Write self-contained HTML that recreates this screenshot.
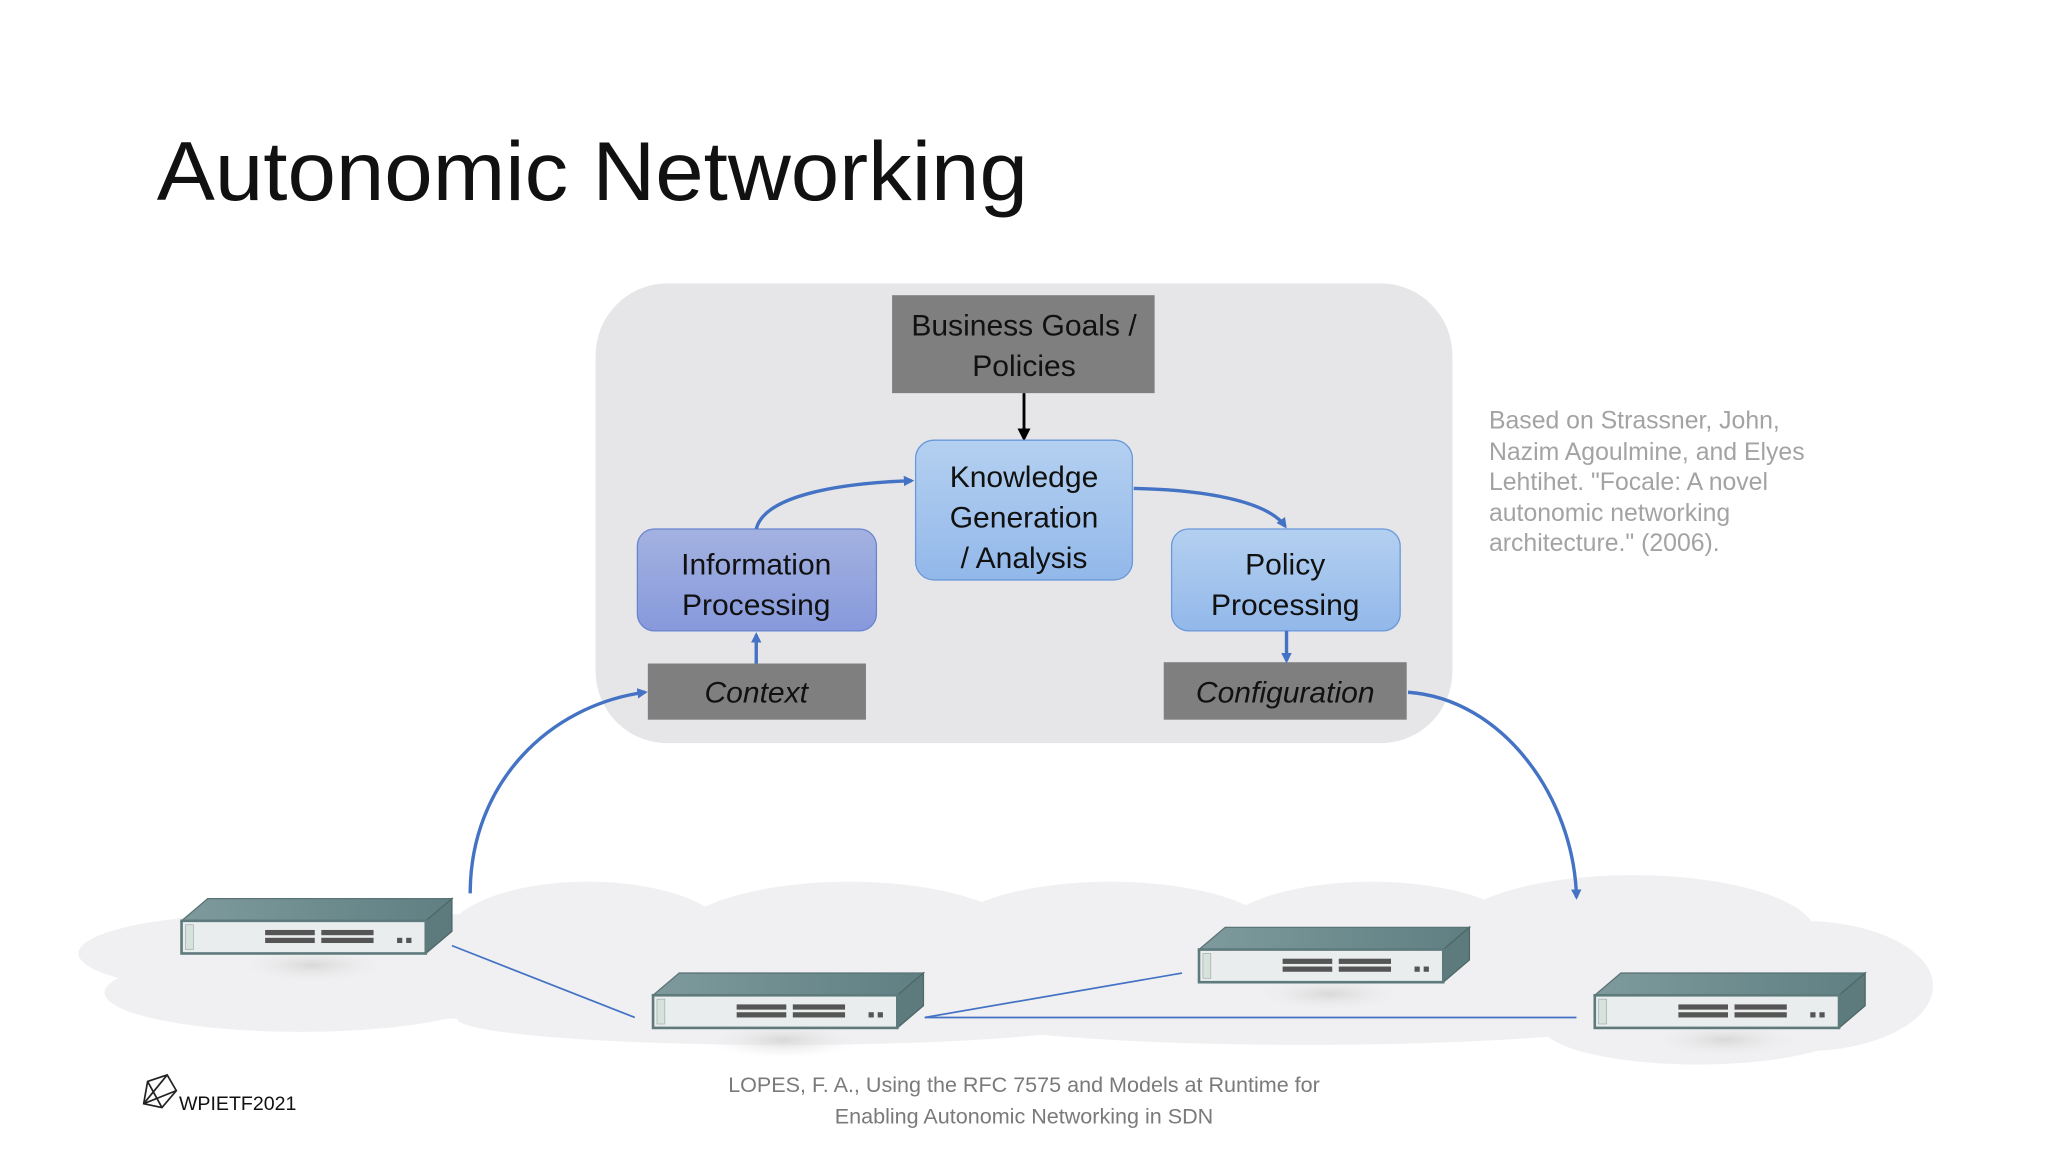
<!DOCTYPE html>
<html><head><meta charset="utf-8"><style>
html,body{margin:0;padding:0;background:#fff;}
svg{display:block;}
</style></head><body>
<svg width="2048" height="1152" viewBox="0 0 1568 882" preserveAspectRatio="none" xmlns="http://www.w3.org/2000/svg">
<defs>
<linearGradient id="kg" x1="0" y1="0" x2="0" y2="1"><stop offset="0" stop-color="#b4d0f0"/><stop offset="1" stop-color="#92b8ea"/></linearGradient>
<linearGradient id="ig" x1="0" y1="0" x2="0" y2="1"><stop offset="0" stop-color="#a3b2e0"/><stop offset="1" stop-color="#8799dc"/></linearGradient>
<linearGradient id="tg" x1="0" y1="0" x2="1" y2="0"><stop offset="0" stop-color="#7e9a9c"/><stop offset="1" stop-color="#5f7f82"/></linearGradient>
<marker id="ab" markerWidth="8" markerHeight="8" refX="6" refY="4" orient="auto" markerUnits="userSpaceOnUse"><path d="M0,0 L8,4 L0,8 z" fill="#4472c4"/></marker>
<marker id="ak" markerWidth="10" markerHeight="10" refX="8" refY="5" orient="auto" markerUnits="userSpaceOnUse"><path d="M0,0 L10,5 L0,10 z" fill="#000"/></marker>
<radialGradient id="sh" cx="0.5" cy="0.5" r="0.5"><stop offset="0" stop-color="#d8d8d8"/><stop offset="1" stop-color="#f0f0f2" stop-opacity="0"/></radialGradient>
<g id="sw">
<ellipse cx="100" cy="34" rx="60" ry="14" fill="url(#sh)"/>
<polygon points="0,0 20,-17 207,-17 187,0" fill="url(#tg)" stroke="#5b7476" stroke-width="1"/>
<polygon points="187,0 207,-17 207,8 187,25" fill="#5d7a7c" stroke="#4f6769" stroke-width="1"/>
<rect x="0" y="0" width="187" height="25" fill="#e9eded" stroke="#5f7a7c" stroke-width="2"/>
<rect x="3" y="3" width="6" height="19" fill="#d8e2dc" stroke="#9aa" stroke-width="0.5"/>
<rect x="64" y="7" width="38" height="4" fill="#555"/><rect x="64" y="13" width="38" height="4" fill="#555"/>
<rect x="107" y="7" width="40" height="4" fill="#555"/><rect x="107" y="13" width="40" height="4" fill="#555"/>
<rect x="165" y="13" width="4" height="4" fill="#555"/><rect x="172" y="13" width="4" height="4" fill="#555"/>
</g>
</defs>

<text x="120" y="153" font-family="Liberation Sans, sans-serif" font-size="64" fill="#111" textLength="667" lengthAdjust="spacingAndGlyphs">Autonomic Networking</text>

<!-- cloud -->
<g fill="#f0f0f2">
<ellipse cx="200" cy="730" rx="140" ry="30"/>
<ellipse cx="230" cy="760" rx="150" ry="30"/>
<ellipse cx="450" cy="720" rx="110" ry="45"/>
<ellipse cx="650" cy="725" rx="140" ry="50"/>
<ellipse cx="850" cy="720" rx="130" ry="45"/>
<ellipse cx="1050" cy="720" rx="120" ry="45"/>
<ellipse cx="1250" cy="715" rx="140" ry="45"/>
<ellipse cx="1380" cy="755" rx="100" ry="50"/>
<ellipse cx="1300" cy="785" rx="120" ry="30"/>
<ellipse cx="600" cy="780" rx="250" ry="20"/>
<ellipse cx="1000" cy="775" rx="280" ry="25"/>
<rect x="300" y="700" width="1000" height="80"/>
</g>

<!-- big gray box -->
<rect x="456" y="217" width="656" height="352" rx="55" fill="#e6e6e8"/>

<rect x="683" y="226" width="201" height="75" fill="#7f7f7f"/>
<text font-family="Liberation Sans, sans-serif" font-size="23" fill="#111" text-anchor="middle"><tspan x="784" y="257">Business Goals /</tspan><tspan x="784" y="288">Policies</tspan></text>
<line x1="784" y1="301" x2="784" y2="336" stroke="#000" stroke-width="2.2" marker-end="url(#ak)"/>

<rect x="701" y="337" width="166" height="107" rx="14" fill="url(#kg)" stroke="#6a98dc" stroke-width="1"/>
<text font-family="Liberation Sans, sans-serif" font-size="23" fill="#111" text-anchor="middle"><tspan x="784" y="373">Knowledge</tspan><tspan x="784" y="404">Generation</tspan><tspan x="784" y="435">/ Analysis</tspan></text>

<rect x="488" y="405" width="183" height="78" rx="13" fill="url(#ig)" stroke="#6a84d0" stroke-width="1"/>
<text font-family="Liberation Sans, sans-serif" font-size="23" fill="#111" text-anchor="middle"><tspan x="579" y="440">Information</tspan><tspan x="579" y="471">Processing</tspan></text>

<rect x="897" y="405" width="175" height="78" rx="13" fill="url(#kg)" stroke="#6a98dc" stroke-width="1"/>
<text font-family="Liberation Sans, sans-serif" font-size="23" fill="#111" text-anchor="middle"><tspan x="984" y="440">Policy</tspan><tspan x="984" y="471">Processing</tspan></text>

<rect x="496" y="508" width="167" height="43" fill="#7f7f7f"/>
<text x="579" y="538" font-family="Liberation Sans, sans-serif" font-size="23" font-style="italic" fill="#111" text-anchor="middle">Context</text>
<rect x="891" y="507" width="186" height="44" fill="#7f7f7f"/>
<text x="984" y="538" font-family="Liberation Sans, sans-serif" font-size="23" font-style="italic" fill="#111" text-anchor="middle">Configuration</text>

<g fill="none" stroke="#4472c4" stroke-width="2.6">
<path d="M579,405 C585,380 640,370 698,368" marker-end="url(#ab)"/>
<path d="M868,374 C920,375 970,383 984,403" marker-end="url(#ab)"/>
<path d="M579,508 L579,486" marker-end="url(#ab)"/>
<path d="M985,483 L985,506" marker-end="url(#ab)"/>
<path d="M360,684 C360,600 420,540 494,530" marker-end="url(#ab)"/>
<path d="M1078,530 C1150,535 1205,610 1207,687" marker-end="url(#ab)"/>
</g>
<g stroke="#4472c4" stroke-width="1.3">
<line x1="346" y1="724" x2="486" y2="779"/>
<line x1="708" y1="779" x2="905" y2="745"/>
<line x1="708" y1="779" x2="1207" y2="779"/>
</g>

<use href="#sw" x="139" y="705"/>
<use href="#sw" x="500" y="762"/>
<use href="#sw" x="918" y="727"/>
<use href="#sw" x="1221" y="762"/>

<text font-family="Liberation Sans, sans-serif" font-size="19" fill="#a3a3a3"><tspan x="1140" y="328">Based on Strassner, John,</tspan><tspan x="1140" y="352">Nazim Agoulmine, and Elyes</tspan><tspan x="1140" y="375">Lehtihet. "Focale: A novel</tspan><tspan x="1140" y="399">autonomic networking</tspan><tspan x="1140" y="422">architecture." (2006).</tspan></text>

<text font-family="Liberation Sans, sans-serif" font-size="16.5" fill="#7a7a7a" text-anchor="middle"><tspan x="784" y="836">LOPES, F. A., Using the RFC 7575 and Models at Runtime for</tspan><tspan x="784" y="860">Enabling Autonomic Networking in SDN</tspan></text>

<g fill="none" stroke="#222" stroke-width="1.3">
<polygon points="113,828 128,823 135,835 124,848 110,845"/>
<line x1="113" y1="828" x2="124" y2="848"/><line x1="128" y1="823" x2="110" y2="845"/><line x1="135" y1="835" x2="110" y2="845"/>
</g>
<text x="137" y="850" font-family="Liberation Sans, sans-serif" font-size="15" fill="#111">WPIETF2021</text>
</svg>
</body></html>
